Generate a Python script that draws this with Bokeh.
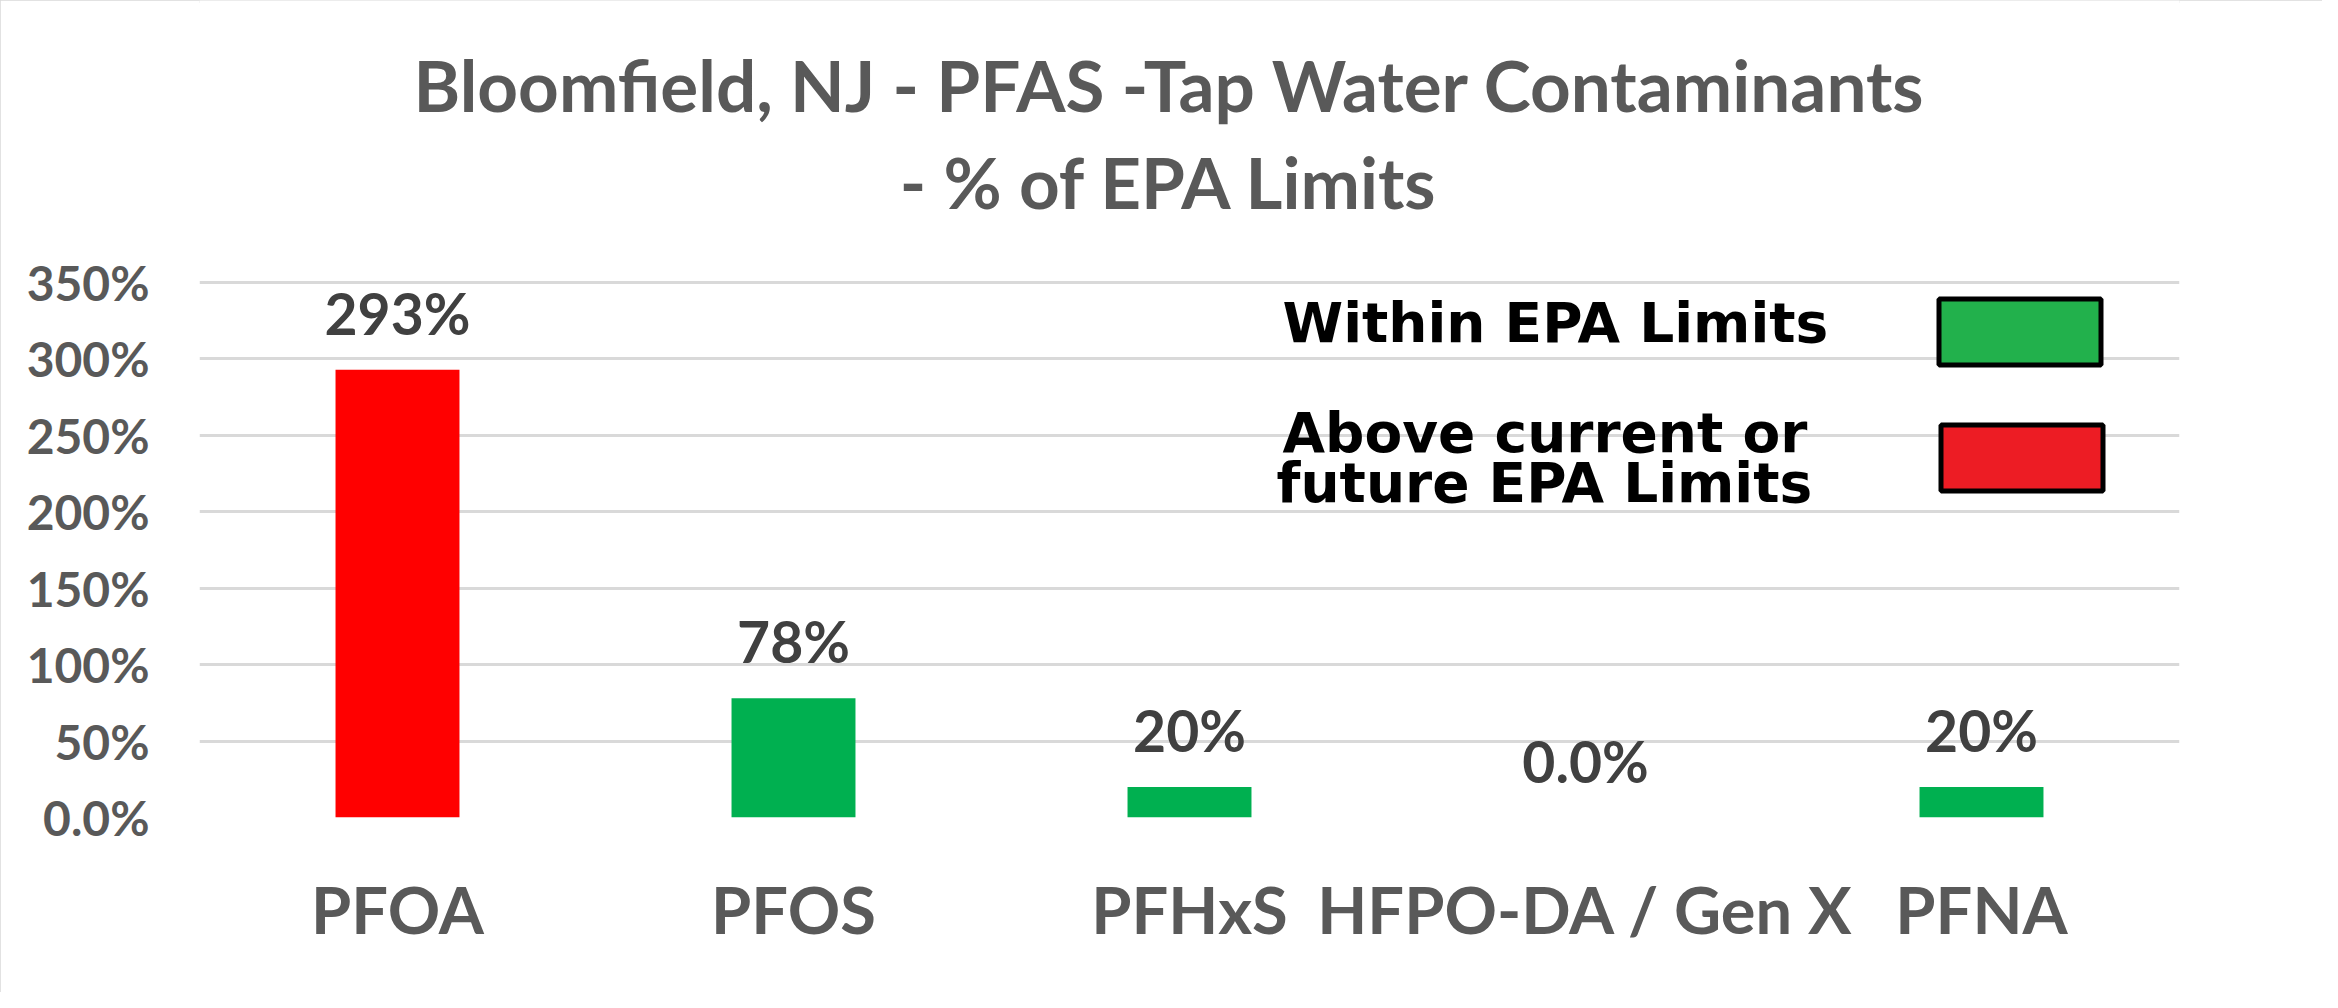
from bokeh.plotting import figure
from bokeh.models import Range1d, FactorRange, FixedTicker, ColumnDataSource
from bokeh.core.properties import value
from bokeh.embed import file_html
from bokeh.resources import INLINE

# ---- data ----
categories = ["PFOA", "PFOS", "PFHxS", "HFPO-DA / Gen X", "PFNA"]
percent_of_limit = [293, 78, 20, 0, 20]
value_labels = ["293%", "78%", "20%", "0.0%", "20%"]
bar_colors = ["#FF0000", "#00B050", "#00B050", "#00B050", "#00B050"]
y_ticks = [0, 50, 100, 150, 200, 250, 300, 350]
y_tick_labels = ["0.0%", "50%", "100%", "150%", "200%", "250%", "300%", "350%"]
title_lines = ["Bloomfield, NJ - PFAS -Tap Water Contaminants", "- % of EPA Limits"]
legend_lines = ["Within EPA Limits", "Above current or", "future EPA Limits"]
legend_colors = ["#22B14C", "#ED1C24"]

# ---- layout geometry (pixels of the figure canvas) ----
W, H = 2322, 992
FRAME_L, FRAME_R = 199, 2179
FRAME_B = 817
Y_TOP_TICK_PX = 282          # pixel row of the 350% gridline
Y_MAX_TICK = 350
PX_PER_UNIT = (FRAME_B - Y_TOP_TICK_PX) / Y_MAX_TICK
Y_END = FRAME_B / PX_PER_UNIT
PX_PER_CAT = (FRAME_R - FRAME_L) / len(categories)


def sx(px):
    return (px - FRAME_L) / PX_PER_CAT


def sy(py):
    return (FRAME_B - py) / PX_PER_UNIT


p = figure(
    width=W, height=H,
    x_range=FactorRange(*categories, range_padding=0, factor_padding=0),
    y_range=Range1d(0, Y_END),
    output_backend="svg", toolbar_location=None,
    min_border_left=FRAME_L, min_border_right=W - FRAME_R,
    min_border_top=0, min_border_bottom=H - FRAME_B,
    background_fill_color="white", border_fill_color="white",
)
p.outline_line_color = None
p.styles = {"outline": "3px solid #d9d9d9", "outline-offset": "-3px"}

# axes
p.yaxis.ticker = FixedTicker(ticks=y_ticks)
p.yaxis.major_label_overrides = {t: l for t, l in zip(y_ticks, y_tick_labels)}
p.yaxis.axis_line_color = None
p.yaxis.major_tick_line_color = None
p.yaxis.minor_tick_line_color = None
p.yaxis.major_tick_out = 0
p.yaxis.major_tick_in = 0
p.yaxis.major_label_standoff = 50
p.yaxis.major_label_text_font = "Lato"
p.yaxis.major_label_text_font_style = "bold"
p.yaxis.major_label_text_font_size = "48px"
p.yaxis.major_label_text_color = "#595959"

p.xaxis.axis_line_color = None
p.xaxis.major_tick_line_color = None
p.xaxis.minor_tick_line_color = None
p.xaxis.major_tick_out = 0
p.xaxis.major_tick_in = 0
p.xaxis.major_label_standoff = 52
p.xaxis.major_label_text_font = "Lato"
p.xaxis.major_label_text_font_style = "bold"
p.xaxis.major_label_text_font_size = "65px"
p.xaxis.major_label_text_color = "#595959"

p.xgrid.grid_line_color = None
p.ygrid.ticker = FixedTicker(ticks=y_ticks)
p.ygrid.grid_line_color = "#D9D9D9"
p.ygrid.grid_line_width = 3

# bars
src = ColumnDataSource(dict(cat=categories, val=percent_of_limit,
                            lab=value_labels, col=bar_colors))
p.vbar(x="cat", top="val", width=0.313, bottom=0, source=src,
       fill_color="col", line_color=None)

# value labels
p.text(x="cat", y="val", text="lab", source=src, y_offset=-57,
       text_align="center", text_baseline="alphabetic",
       text_font=value("Lato"), text_font_style="bold",
       text_font_size="57px", text_color="#404040")

# title
p.text(x=[sx(1169)] * 2, y=[sy(84), sy(181)], text=title_lines,
       text_align="center", text_baseline="alphabetic",
       text_font=value("Lato"), text_font_style="bold",
       text_font_size="71px", text_color="#595959")

# legend (drawn as in the original picture)
p.text(x=[sx(1282), sx(1282), sx(1276)], y=[sy(322), sy(432), sy(482)],
       text=legend_lines, text_align="left", text_baseline="alphabetic",
       text_font=value("DejaVu Sans"), text_font_style="bold",
       text_font_size="55px", text_color="black")
p.quad(left=[sx(1938.5), sx(1940.5)], right=[sx(2100.5), sx(2102.5)],
       top=[sy(298.5), sy(424.5)], bottom=[sy(364.5), sy(490.5)],
       fill_color=legend_colors, line_color="black", line_width=5)

open("out.html", "w").write(file_html(p, INLINE))
